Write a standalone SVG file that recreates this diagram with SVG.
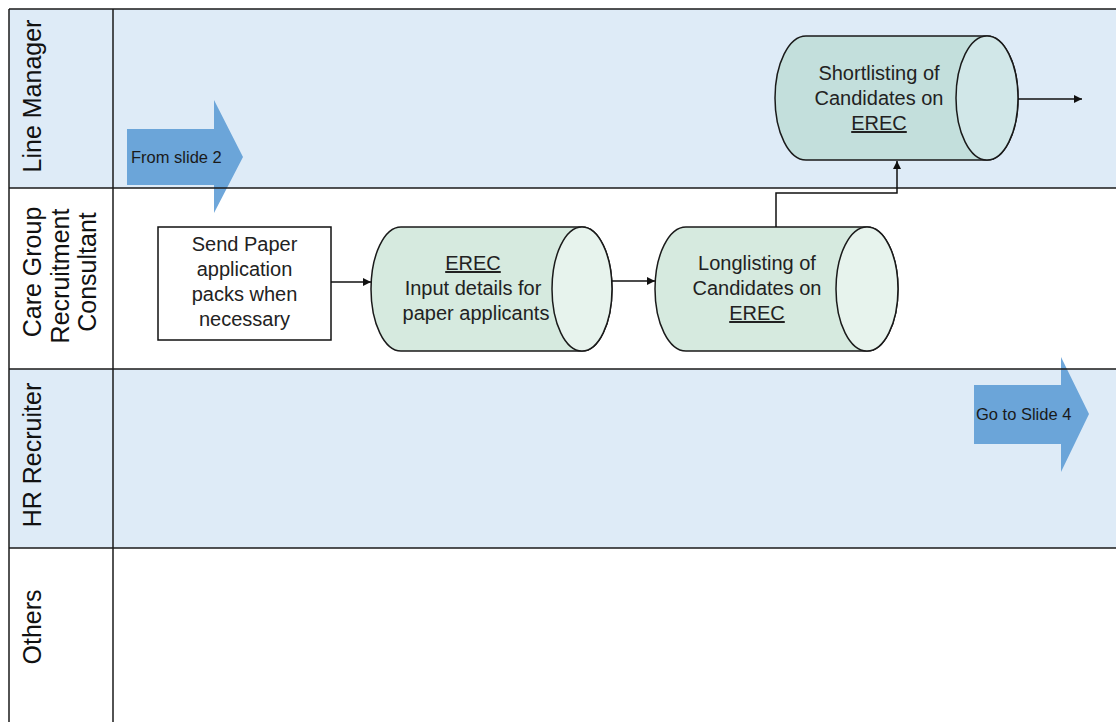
<svg xmlns="http://www.w3.org/2000/svg" width="1116" height="722" viewBox="0 0 1116 722">
  <style>
    .lane-blue { fill: #deebf7; }
    .lane-white { fill: #ffffff; }
    .rule { stroke: #1a1a1a; stroke-width: 1.5; fill: none; }
    .lane-label { font-family: "Liberation Sans", Arial, sans-serif; font-size: 25px; fill: #111; }
    .body-text { font-family: "Liberation Sans", Arial, sans-serif; font-size: 20px; fill: #222; text-anchor: middle; }
    .ul { text-decoration: underline; }
    .jump { fill: #5b9bd5; fill-opacity: 0.88; }
    .jump-text { font-family: "Liberation Sans", Arial, sans-serif; font-size: 16.5px; fill: #1a1a1a; }
    .box { fill: #ffffff; stroke: #111; stroke-width: 1.5; }
    .cyl-body { stroke: #1a1a1a; stroke-width: 1.5; }
    .cyl-face { stroke: #1a1a1a; stroke-width: 1.5; }
    .green .cyl-body { fill: #d6eadf; }
    .green .cyl-face { fill: #e7f3ed; }
    .teal .cyl-body { fill: #c3dfdc; }
    .teal .cyl-face { fill: #d1e7e8; }
    .link { stroke: #111; stroke-width: 1.5; fill: none; marker-end: url(#head); }
  </style>
  <defs>
    <marker id="head" viewBox="0 0 10 10" refX="10" refY="5" markerWidth="10" markerHeight="8" markerUnits="userSpaceOnUse" orient="auto">
      <path d="M0,0 L10,5 L0,10 Z" fill="#111"/>
    </marker>
  </defs>

  <!-- swimlane backgrounds -->
  <g id="lanes">
    <rect class="lane-blue" x="9" y="9" width="1107" height="179"/>
    <rect class="lane-white" x="9" y="188" width="1107" height="181"/>
    <rect class="lane-blue" x="9" y="369" width="1107" height="179"/>
    <rect class="lane-white" x="9" y="548" width="1107" height="174"/>
  </g>

  <!-- off-page jump arrows (semi-transparent, lane rules show through) -->
  <g id="from-slide-2">
    <path class="jump" d="M127,129 L214,129 L214,100 L243,157 L214,213 L214,185 L127,185 Z"/>
  </g>
  <g id="go-to-slide-4">
    <path class="jump" d="M974,385 L1061,385 L1061,357 L1089,414 L1061,472 L1061,444 L974,444 Z"/>
  </g>

  <!-- lane rules -->
  <g id="rules">
    <line class="rule" x1="9" y1="9" x2="1116" y2="9"/>
    <line class="rule" x1="9" y1="9" x2="9" y2="722"/>
    <line class="rule" x1="113" y1="9" x2="113" y2="722"/>
    <line class="rule" x1="9" y1="188" x2="1116" y2="188"/>
    <line class="rule" x1="9" y1="369" x2="1116" y2="369"/>
    <line class="rule" x1="9" y1="548" x2="1116" y2="548"/>
  </g>

  <g id="jump-labels">
    <text class="jump-text" x="131" y="163">From slide 2</text>
    <text class="jump-text" x="976" y="420">Go to Slide 4</text>
  </g>

  <!-- lane titles -->
  <g id="lane-line-manager">
    <text class="lane-label" transform="translate(41,96) rotate(-90)" text-anchor="middle">Line Manager</text>
  </g>
  <g id="lane-care-group">
    <text class="lane-label" transform="translate(41,272) rotate(-90)" text-anchor="middle">Care Group</text>
    <text class="lane-label" transform="translate(68.5,276) rotate(-90)" text-anchor="middle">Recruitment</text>
    <text class="lane-label" transform="translate(96,272) rotate(-90)" text-anchor="middle">Consultant</text>
  </g>
  <g id="lane-hr-recruiter">
    <text class="lane-label" transform="translate(41,455) rotate(-90)" text-anchor="middle">HR Recruiter</text>
  </g>
  <g id="lane-others">
    <text class="lane-label" transform="translate(41,627) rotate(-90)" text-anchor="middle">Others</text>
  </g>

  <!-- process nodes -->
  <g id="send-paper">
    <rect class="box" x="158" y="227" width="173" height="113"/>
    <text class="body-text" x="244.5" y="251">Send Paper</text>
    <text class="body-text" x="244.5" y="276">application</text>
    <text class="body-text" x="244.5" y="301">packs when</text>
    <text class="body-text" x="244.5" y="326">necessary</text>
  </g>

  <g id="erec-input" class="green">
    <path class="cyl-body" d="M401,227 L582,227 A30,62 0 0 1 582,351 L401,351 A30,62 0 0 1 401,227 Z"/>
    <ellipse class="cyl-face" cx="582" cy="289" rx="30" ry="62"/>
    <text class="body-text ul" x="473" y="270">EREC</text>
    <text class="body-text" x="473" y="295">Input details for</text>
    <text class="body-text" x="476" y="320">paper applicants</text>
  </g>

  <g id="longlisting" class="green">
    <path class="cyl-body" d="M686,227 L867,227 A31,62 0 0 1 867,351 L686,351 A31,62 0 0 1 686,227 Z"/>
    <ellipse class="cyl-face" cx="867" cy="289" rx="31" ry="62"/>
    <text class="body-text" x="757" y="270">Longlisting of</text>
    <text class="body-text" x="757" y="295">Candidates on</text>
    <text class="body-text ul" x="757" y="320">EREC</text>
  </g>

  <g id="shortlisting" class="teal">
    <path class="cyl-body" d="M806,36 L987,36 A31,62 0 0 1 987,160 L806,160 A31,62 0 0 1 806,36 Z"/>
    <ellipse class="cyl-face" cx="987" cy="98" rx="31" ry="62"/>
    <text class="body-text" x="879" y="80">Shortlisting of</text>
    <text class="body-text" x="879" y="105">Candidates on</text>
    <text class="body-text ul" x="879" y="130">EREC</text>
  </g>

  <!-- connectors -->
  <g id="connectors">
    <path class="link" d="M331,282 L371,282"/>
    <path class="link" d="M612,281 L655,281"/>
    <path class="link" d="M776,227 L776,193 L897,193 L897,161"/>
    <path class="link" d="M1018,99 L1082,99"/>
  </g>
</svg>
